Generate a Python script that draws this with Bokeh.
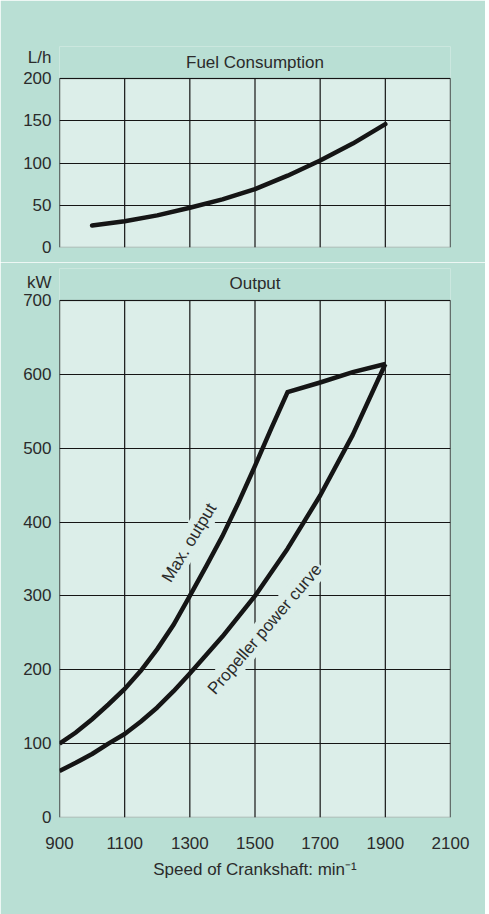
from bokeh.plotting import figure
from bokeh.layouts import column
from bokeh.models import Range1d, FixedTicker, Label, BoxAnnotation
from bokeh.embed import file_html
from bokeh.resources import INLINE

# ---------------- data ----------------
speed_ticks = [900, 1100, 1300, 1500, 1700, 1900, 2100]
fuel_ticks = [0, 50, 100, 150, 200]
output_ticks = [0, 100, 200, 300, 400, 500, 600, 700]

fuel_speed = [1000, 1100, 1200, 1300, 1400, 1500, 1600, 1700, 1800, 1900]
fuel_lph = [26, 31, 38, 47, 57, 69, 85, 103, 123, 146]

max_speed = [900, 950, 1000, 1050, 1100, 1150, 1200, 1250, 1300, 1350,
             1400, 1450, 1500, 1550, 1600, 1700, 1800, 1900]
max_output_kw = [100, 115, 133, 153, 174, 199, 228, 261, 300, 340,
                 381, 427, 476, 527, 576, 589, 603, 614]

prop_speed = [900, 950, 1000, 1050, 1100, 1150, 1200, 1250, 1300, 1400,
              1500, 1600, 1700, 1800, 1900]
propeller_kw = [63, 74, 86, 100, 113, 130, 149, 171, 195, 245,
                300, 364, 436, 518, 614]

# ---------------- style ----------------
FONT = "Liberation Sans"
PANEL = "#b9dfd4"
PLOT_BG = "#dceee9"
INK = "#151515"
TXT = "#2b2b2b"
FS = "17px"
W = 485


def make_panel(height, frame_left, frame_right_gap, frame_top_ext, frame_h,
               visual_h, yticks, unit_tick, unit_text, title, title_off):
    y_top = yticks[-1]
    units_per_px = y_top / visual_h
    y_end = frame_h * units_per_px
    p = figure(width=W, height=height, output_backend="svg",
               toolbar_location=None,
               x_range=Range1d(speed_ticks[0], speed_ticks[-1]),
               y_range=Range1d(0, y_end),
               min_border_left=frame_left, min_border_right=frame_right_gap,
               min_border_top=frame_top_ext,
               min_border_bottom=height - frame_top_ext - frame_h)
    p.background_fill_color = PANEL
    p.border_fill_color = PANEL
    p.outline_line_color = None

    # visual plot area
    p.add_layout(BoxAnnotation(left=speed_ticks[0], right=speed_ticks[-1],
                               bottom=0, top=y_top, fill_color=PLOT_BG,
                               fill_alpha=1.0, line_color=INK, line_width=1.5,
                               level="image"))
    # horizontal grid
    p.xgrid.visible = False
    p.ygrid.ticker = FixedTicker(ticks=yticks)
    p.ygrid.grid_line_color = INK
    p.ygrid.grid_line_width = 1.2
    # vertical grid, limited to the plot area
    p.segment(x0=speed_ticks, y0=[0] * len(speed_ticks), x1=speed_ticks,
              y1=[y_top] * len(speed_ticks), line_color=INK, line_width=1.2)

    p.xaxis.ticker = FixedTicker(ticks=speed_ticks)
    p.yaxis.ticker = FixedTicker(ticks=yticks + [unit_tick])
    p.yaxis.major_label_overrides = {unit_tick: unit_text}
    for ax in p.axis:
        ax.axis_line_color = None
        ax.major_tick_line_color = None
        ax.minor_tick_line_color = None
        ax.major_label_text_font = FONT
        ax.major_label_text_font_size = FS
        ax.major_label_text_color = TXT
    p.yaxis.major_label_standoff = 2

    p.add_layout(Label(x=(speed_ticks[0] + speed_ticks[-1]) / 2,
                       y=y_top + title_off * units_per_px,
                       text=title, text_align="center",
                       text_baseline="alphabetic", text_font=FONT,
                       text_font_size="17px", text_color=TXT))
    return p


# ---------------- top: fuel consumption ----------------
p1 = make_panel(height=262, frame_left=59, frame_right_gap=W - 452,
                frame_top_ext=46, frame_h=201, visual_h=169,
                yticks=fuel_ticks, unit_tick=225, unit_text="L/h",
                title="Fuel Consumption", title_off=16)
p1.xaxis.visible = False
p1.line(fuel_speed, fuel_lph, line_color=INK, line_width=4.5, line_cap="round")

# ---------------- bottom: output ----------------
p2 = make_panel(height=652, frame_left=58, frame_right_gap=W - 450,
                frame_top_ext=6, frame_h=549, visual_h=517,
                yticks=output_ticks, unit_tick=724, unit_text="kW",
                title="Output", title_off=17)
p2.xaxis.major_label_standoff = 13
p2.xaxis.axis_label = "Speed of Crankshaft: min\u207b\u00b9"
p2.xaxis.axis_label_text_font = FONT
p2.xaxis.axis_label_text_font_size = FS
p2.xaxis.axis_label_text_font_style = "normal"
p2.xaxis.axis_label_text_color = TXT
p2.xaxis.axis_label_standoff = 8

p2.line(max_speed, max_output_kw, line_color=INK, line_width=4.5,
        line_join="miter")
p2.line(prop_speed, propeller_kw, line_color=INK, line_width=4.5,
        line_join="round")

p2.add_layout(Label(x=1298, y=372, text="Max. output", angle=58.7,
                    angle_units="deg", text_align="center",
                    text_baseline="middle", text_font=FONT,
                    text_font_size=FS, text_color=TXT,
                    background_fill_color=PLOT_BG, padding=2))
p2.add_layout(Label(x=1530, y=255, text="Propeller power curve", angle=49.5,
                    angle_units="deg", text_align="center",
                    text_baseline="middle", text_font=FONT,
                    text_font_size=FS, text_color=TXT,
                    background_fill_color=PLOT_BG, padding=2))

layout = column(p1, p2, spacing=0)
open("out.html", "w").write(file_html(layout, INLINE))
